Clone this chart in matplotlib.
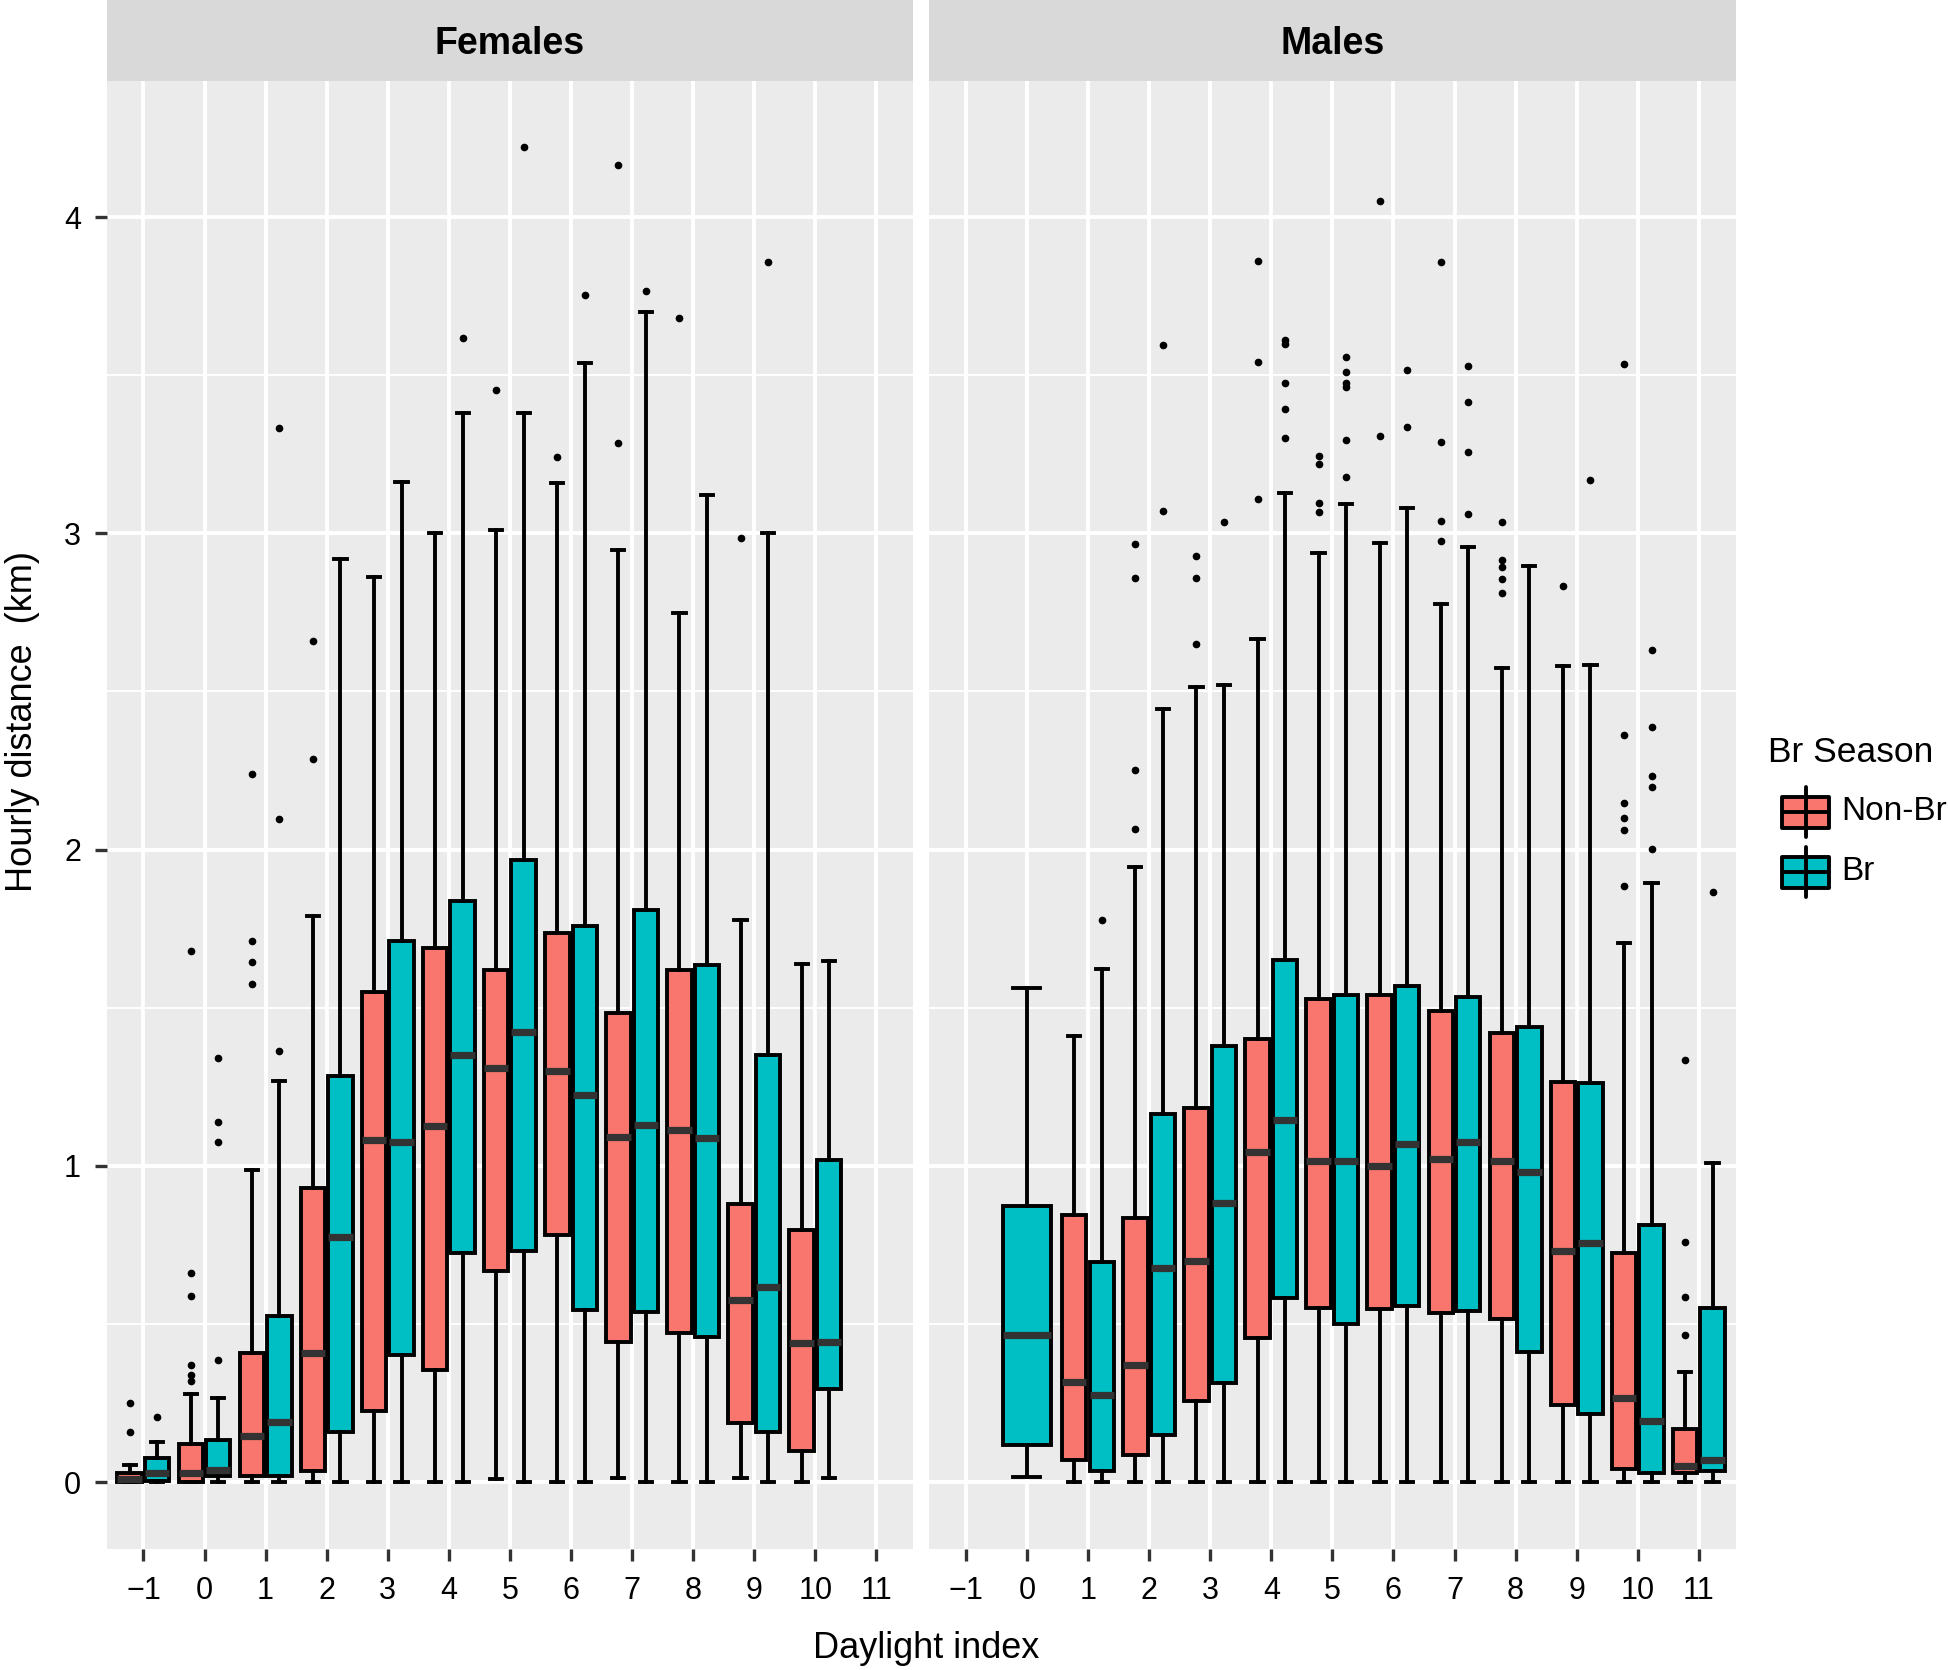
import numpy as np
import matplotlib.pyplot as plt
from matplotlib.patches import Rectangle

plt.rcParams['font.family'] = ['Liberation Sans', 'DejaVu Sans']

W, H = 1948, 1670

days = list(range(-1, 12))
day_labels = ['\u22121'] + [str(d) for d in range(0, 12)]
season_names = ['Non-Br', 'Br']
season_colors = ['#F8766D', '#00BFC4']
panel_titles = ['Females', 'Males']

# ---- Females, Non-Br ----
f_nb_day = [-1, 0, 1, 2, 3, 4, 5, 6, 7, 8, 9, 10]
f_nb_lo = [0, 0, 0, 0, 0, 0, 0.011, 0, 0.014, 0, 0.014, 0]
f_nb_q1 = [0.0, 0.0, 0.02, 0.037, 0.225, 0.355, 0.668, 0.783, 0.445, 0.473, 0.186, 0.099]
f_nb_med = [0.01, 0.03, 0.146, 0.408, 1.082, 1.127, 1.31, 1.301, 1.09, 1.115, 0.577, 0.439]
f_nb_q3 = [0.03, 0.12, 0.408, 0.93, 1.549, 1.69, 1.62, 1.738, 1.485, 1.62, 0.879, 0.797]
f_nb_hi = [0.055, 0.279, 0.986, 1.789, 2.862, 3.0, 3.011, 3.158, 2.946, 2.749, 1.777, 1.639]
f_nb_out = [[0.159, 0.25], [0.32, 0.34, 0.37, 0.59, 0.66, 1.68],
            [1.575, 1.645, 1.71, 2.24], [2.287, 2.659], [], [], [3.454],
            [3.24], [3.285, 4.165], [3.68], [2.986], []]

# ---- Females, Br ----
f_br_day = [-1, 0, 1, 2, 3, 4, 5, 6, 7, 8, 9, 10]
f_br_lo = [0, 0, 0, 0, 0, 0, 0, 0, 0, 0, 0, 0.014]
f_br_q1 = [0.005, 0.02, 0.02, 0.158, 0.403, 0.724, 0.73, 0.544, 0.538, 0.459, 0.16, 0.296]
f_br_med = [0.03, 0.04, 0.189, 0.775, 1.076, 1.352, 1.425, 1.223, 1.13, 1.087, 0.617, 0.445]
f_br_q3 = [0.077, 0.134, 0.527, 1.285, 1.71, 1.839, 1.966, 1.76, 1.808, 1.634, 1.352, 1.02]
f_br_hi = [0.128, 0.267, 1.27, 2.92, 3.161, 3.38, 3.38, 3.54, 3.70, 3.121, 3.0, 1.648]
f_br_out = [[0.207], [0.386, 1.076, 1.138, 1.34], [1.363, 2.096, 3.332], [], [],
            [3.617], [4.22], [3.752], [3.766], [], [3.859], []]

# ---- Males, Non-Br ----
m_nb_day = [1, 2, 3, 4, 5, 6, 7, 8, 9, 10, 11]
m_nb_lo = [0, 0, 0, 0, 0, 0, 0, 0, 0, 0, 0]
m_nb_q1 = [0.07, 0.085, 0.257, 0.455, 0.551, 0.548, 0.536, 0.516, 0.245, 0.041, 0.03]
m_nb_med = [0.318, 0.37, 0.70, 1.044, 1.017, 1.0, 1.023, 1.015, 0.732, 0.265, 0.052]
m_nb_q3 = [0.845, 0.834, 1.184, 1.402, 1.528, 1.539, 1.49, 1.42, 1.265, 0.726, 0.169]
m_nb_hi = [1.411, 1.945, 2.513, 2.665, 2.939, 2.971, 2.778, 2.574, 2.58, 1.706, 0.35]
m_nb_out = [[], [2.064, 2.251, 2.86, 2.965], [2.65, 2.86, 2.927], [3.108, 3.542, 3.86],
            [3.067, 3.096, 3.22, 3.245], [3.309, 4.052], [2.977, 3.04, 3.289, 3.857],
            [2.81, 2.857, 2.892, 2.915, 3.035], [2.834],
            [1.886, 2.061, 2.099, 2.149, 2.364, 3.534], [0.466, 0.586, 0.761, 1.335]]

# ---- Males, Br ----
m_br_day = [0, 1, 2, 3, 4, 5, 6, 7, 8, 9, 10, 11]
m_br_lo = [0.017, 0, 0, 0, 0, 0, 0, 0, 0, 0, 0, 0]
m_br_q1 = [0.117, 0.035, 0.149, 0.315, 0.583, 0.501, 0.557, 0.542, 0.411, 0.216, 0.03, 0.035]
m_br_med = [0.466, 0.277, 0.676, 0.883, 1.146, 1.017, 1.07, 1.076, 0.98, 0.755, 0.195, 0.07]
m_br_q3 = [0.872, 0.697, 1.163, 1.379, 1.65, 1.539, 1.569, 1.534, 1.44, 1.262, 0.813, 0.551]
m_br_hi = [1.563, 1.624, 2.446, 2.522, 3.128, 3.093, 3.079, 2.956, 2.898, 2.583, 1.895, 1.009]
m_br_out = [[], [1.778], [3.07, 3.595], [3.035], [3.30, 3.394, 3.475, 3.598, 3.61],
            [3.178, 3.294, 3.463, 3.475, 3.51, 3.557], [3.335, 3.516],
            [3.061, 3.257, 3.414, 3.528], [], [3.169],
            [2.003, 2.198, 2.233, 2.388, 2.63], [1.866]]

panels = [
    [(f_nb_day, f_nb_lo, f_nb_q1, f_nb_med, f_nb_q3, f_nb_hi, f_nb_out),
     (f_br_day, f_br_lo, f_br_q1, f_br_med, f_br_q3, f_br_hi, f_br_out)],
    [(m_nb_day, m_nb_lo, m_nb_q1, m_nb_med, m_nb_q3, m_nb_hi, m_nb_out),
     (m_br_day, m_br_lo, m_br_q1, m_br_med, m_br_q3, m_br_hi, m_br_out)],
]

fig = plt.figure(figsize=(W / 100, H / 100), dpi=100)

panel_left = [106.8, 929.2]
panel_w = 806.3
panel_top, panel_bot = 80.7, 1549.0
strip_h = 80.7

box_lw = 2.8
line_lw = 2.8
for p, groups in enumerate(panels):
    ax = fig.add_axes([panel_left[p] / W, 1 - panel_bot / H, panel_w / W,
                       (panel_bot - panel_top) / H])
    ax.set_facecolor('#EBEBEB')
    for s in ax.spines.values():
        s.set_visible(False)
    ax.set_xlim(-1.6, 11.6)
    ax.set_ylim(-0.211, 4.431)
    ax.set_xticks(days)
    ax.set_xticklabels(day_labels)
    ax.set_yticks([0, 1, 2, 3, 4])
    ax.set_yticks([0.5, 1.5, 2.5, 3.5], minor=True)
    ax.grid(True, which='major', color='white', linewidth=2.8)
    ax.grid(True, which='minor', axis='y', color='white', linewidth=1.4)
    ax.set_axisbelow(True)
    ax.tick_params(which='major', length=8.5, width=2.4, color='#333333',
                   labelsize=22, labelcolor='black')
    ax.tick_params(axis='x', pad=11)
    ax.tick_params(axis='y', pad=10)
    ax.tick_params(which='minor', length=0)
    if p == 0:
        ax.set_yticklabels(['0', '1', '2', '3', '4'])
    else:
        ax.tick_params(axis='y', left=False, labelleft=False)

    both = set(groups[0][0]) & set(groups[1][0])
    for k, (day, lo, q1, med, q3, hi, out) in enumerate(groups):
        side = -0.225 if k == 0 else 0.225
        pos = [d + side if d in both else d for d in day]
        widths = [0.4 if d in both else 0.8 for d in day]
        caps = [0.2 if d in both else 0.44 for d in day]
        stats = [dict(whislo=a, q1=b, med=c, q3=e, whishi=f, fliers=np.array(o))
                 for a, b, c, e, f, o in zip(lo, q1, med, q3, hi, out)]
        ax.bxp(stats, positions=pos, widths=widths, capwidths=caps,
               patch_artist=True, manage_ticks=False,
               boxprops=dict(facecolor=season_colors[k], edgecolor='black',
                             linewidth=box_lw),
               medianprops=dict(color='#333333', linewidth=5.2,
                                solid_capstyle='butt'),
               whiskerprops=dict(color='black', linewidth=line_lw),
               capprops=dict(color='black', linewidth=line_lw),
               flierprops=dict(marker='o', markerfacecolor='black',
                               markeredgecolor='black', markersize=4.5,
                               linestyle='none'))

    sax = fig.add_axes([panel_left[p] / W, 1 - strip_h / H, panel_w / W, strip_h / H])
    sax.set_facecolor('#D9D9D9')
    sax.set_xticks([])
    sax.set_yticks([])
    for s in sax.spines.values():
        s.set_visible(False)
    sax.text(0.5, 0.45, panel_titles[p], ha='center', va='center',
             fontsize=27, fontweight='bold', transform=sax.transAxes)

# axis titles
fig.text(925.8 / W, 1 - 1658 / H, 'Daylight index', ha='center', va='baseline',
         fontsize=26)
fig.text(31.7 / W, 1 - 722 / H, 'Hourly distance  (km)', ha='center',
         va='baseline', rotation=90, rotation_mode='anchor', fontsize=26)

# legend drawn in pixel coordinates on an overlay
lg = fig.add_axes([0, 0, 1, 1], facecolor='none')
lg.set_xlim(0, W)
lg.set_ylim(H, 0)
lg.axis('off')
lg.text(1768, 752, 'Br Season', ha='left', va='center', fontsize=25.5)
key_y = [812, 872]
for k in range(2):
    cy = key_y[k]
    lg.plot([1805.5, 1805.5], [cy - 25, cy + 25], color='black', lw=line_lw,
            solid_capstyle='round')
    lg.add_patch(Rectangle((1781.7, cy - 15.5), 47.6, 31,
                           facecolor=season_colors[k], edgecolor='black',
                           linewidth=box_lw, joinstyle='round'))
    lg.plot([1781.7, 1829.3], [cy, cy], color='black', lw=box_lw,
            solid_capstyle='butt')
    lg.text(1841.7, cy, season_names[k], ha='left', va='center', fontsize=24)

fig.savefig('out.png', dpi=100)
